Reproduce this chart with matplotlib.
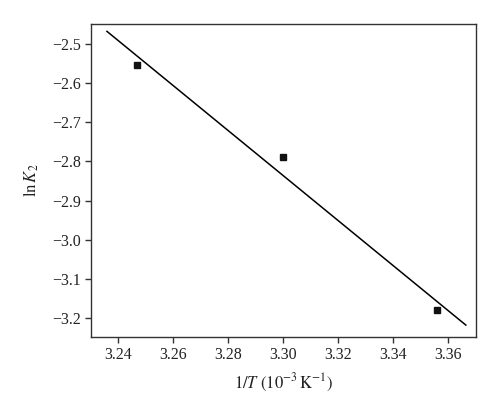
import numpy as np
import matplotlib.pyplot as plt

# datos
inv_T = [3.247, 3.300, 3.356]
ln_K2 = [-2.555, -2.790, -3.180]
x_ajuste = [3.236, 3.3665]

x_ticks = [3.24, 3.26, 3.28, 3.30, 3.32, 3.34, 3.36]
y_ticks = [-2.5, -2.6, -2.7, -2.8, -2.9, -3.0, -3.1, -3.2]

plt.rcParams['font.family'] = ['Liberation Serif', 'DejaVu Serif']
plt.rcParams['mathtext.fontset'] = 'stix'
plt.rcParams['axes.unicode_minus'] = True


def main():
    fig = plt.figure(figsize=(5.0, 4.11), dpi=100)
    ax = fig.add_axes([0.182, 0.180, 0.770, 0.762])

    # recta de ajuste lineal
    m, b = np.polyfit(inv_T, ln_K2, 1)
    xs = np.array(x_ajuste)
    ax.plot(xs, m * xs + b, color='black', lw=1.1)

    ax.plot(inv_T, ln_K2, 's', color='#111111', markersize=4.6, linestyle='none')

    ax.set_xlim(3.2302, 3.3702)
    ax.set_ylim(-3.2485, -2.449)
    ax.set_xticks(x_ticks)
    ax.set_xticklabels(['%.2f' % v for v in x_ticks])
    ax.set_yticks(y_ticks)
    ax.set_yticklabels([('%.1f' % v).replace('-', '\u2212') for v in y_ticks])

    for s in ax.spines.values():
        s.set_color('#333333')
        s.set_linewidth(1.0)
    ax.tick_params(direction='out', length=4, width=1.0, color='#333333',
                   labelsize=11.5, labelcolor='#222222', top=False, right=False)

    ax.set_xlabel(r'$1/T$ $(10^{-3}\,\mathrm{K}^{-1})$', fontsize=12, color='#222222', labelpad=6)
    ax.set_ylabel(r'$\mathrm{ln}\,K_{2}$', fontsize=12, color='#222222', labelpad=8)

    fig.savefig('out.png', dpi=100)


if __name__ == "__main__":
    main()
